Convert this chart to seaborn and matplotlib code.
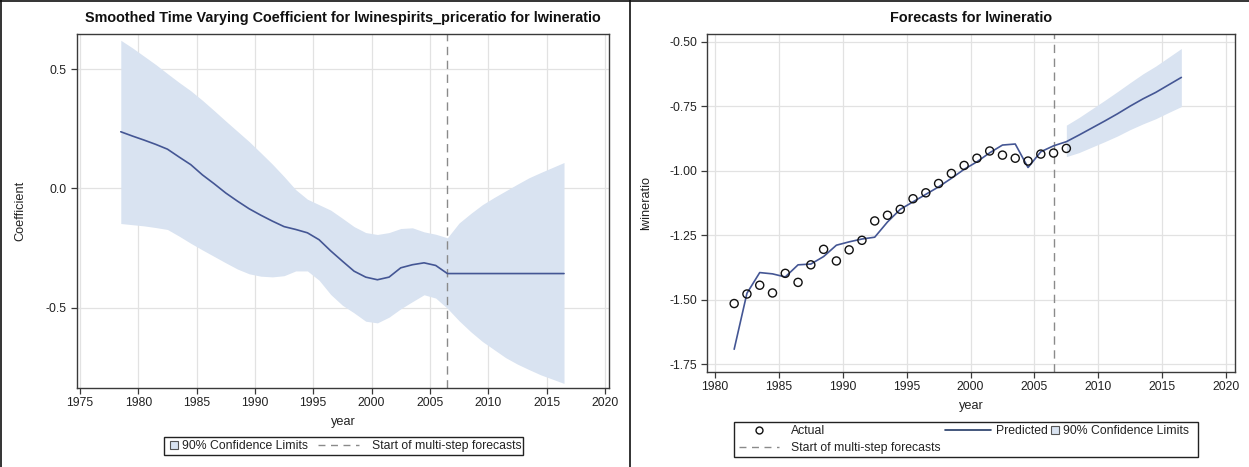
import numpy as np
import pandas as pd
import matplotlib
matplotlib.use("Agg")
import matplotlib.pyplot as plt
import seaborn as sns
from matplotlib.lines import Line2D
from matplotlib.patches import Rectangle, Patch
from matplotlib.legend_handler import HandlerPatch

# ---------------- data ----------------
coef_years = np.arange(1978.5, 2017.0, 1.0)
coef_values = [0.238, 0.220, 0.203, 0.185, 0.165, 0.132, 0.100, 0.057, 0.020, -0.019,
               -0.053, -0.085, -0.112, -0.137, -0.160, -0.172, -0.186, -0.215, -0.262, -0.305,
               -0.347, -0.372, -0.383, -0.372, -0.333, -0.320, -0.312, -0.323, -0.357,
               -0.357, -0.357, -0.357, -0.357, -0.357, -0.357, -0.357, -0.357, -0.357, -0.357]
coef_upper = [0.622, 0.590, 0.555, 0.520, 0.482, 0.445, 0.410, 0.370, 0.327, 0.283,
              0.240, 0.197, 0.150, 0.102, 0.050, -0.005, -0.045, -0.068, -0.091, -0.125,
              -0.160, -0.185, -0.193, -0.185, -0.168, -0.165, -0.182, -0.192, -0.207,
              -0.145, -0.105, -0.068, -0.038, -0.010, 0.018, 0.045, 0.067, 0.088, 0.109]
coef_lower = [-0.147, -0.152, -0.157, -0.164, -0.172, -0.200, -0.230, -0.258, -0.285, -0.312,
              -0.338, -0.358, -0.368, -0.371, -0.366, -0.346, -0.346, -0.385, -0.445, -0.490,
              -0.522, -0.557, -0.564, -0.540, -0.505, -0.475, -0.446, -0.460, -0.503,
              -0.555, -0.601, -0.642, -0.676, -0.710, -0.737, -0.760, -0.782, -0.800, -0.818]

actual_years = np.arange(1981.5, 2008.0, 1.0)
actual_values = [-1.515, -1.478, -1.444, -1.474, -1.398, -1.433, -1.365, -1.305, -1.350, -1.307,
                 -1.270, -1.195, -1.173, -1.150, -1.109, -1.086, -1.050, -1.011, -0.980, -0.952,
                 -0.924, -0.940, -0.952, -0.963, -0.936, -0.932, -0.914]
pred_years = np.arange(1981.5, 2017.0, 1.0)
pred_values = [-1.692, -1.475, -1.395, -1.400, -1.412, -1.365, -1.362, -1.333, -1.289, -1.276,
               -1.265, -1.258, -1.199, -1.150, -1.121, -1.092, -1.063, -1.030, -0.995, -0.966,
               -0.931, -0.901, -0.897, -0.988, -0.927, -0.904, -0.888, -0.862, -0.835, -0.808,
               -0.780, -0.750, -0.722, -0.697, -0.668, -0.639]
band_years = np.arange(2007.5, 2017.0, 1.0)
band_upper = [-0.824, -0.794, -0.761, -0.728, -0.694, -0.659, -0.625, -0.595, -0.561, -0.527]
band_lower = [-0.946, -0.930, -0.909, -0.888, -0.866, -0.841, -0.819, -0.799, -0.775, -0.752]

forecast_start = 2006.5

left_xticks = [1975, 1980, 1985, 1990, 1995, 2000, 2005, 2010, 2015, 2020]
left_yticks = [0.5, 0.0, -0.5]
right_xticks = [1980, 1985, 1990, 1995, 2000, 2005, 2010, 2015, 2020]
right_yticks = [-0.50, -0.75, -1.00, -1.25, -1.50, -1.75]

# ---------------- style ----------------
sns.set_theme(style="whitegrid")
plt.rcParams["font.family"] = ["Liberation Sans", "DejaVu Sans"]
plt.rcParams["axes.unicode_minus"] = False

LINE = "#445694"
BAND = "#d9e3f1"
DASH = "#8a8a8a"
GRID = "#e2e2e2"
TXT = "#222222"
FS = 8.8          # tick / legend font size
FS_LAB = 9.2      # axis label font size
FS_TITLE = 10.4

W, H = 1249, 467
fig = plt.figure(figsize=(W / 100, H / 100), dpi=100)
fig.patch.set_facecolor("white")


def fx(x):
    return x / W


def fy(y):
    return 1 - y / H


def ax_rect(x0, x1, ytop, ybot):
    return [fx(x0), fy(ybot), (x1 - x0) / W, (ybot - ytop) / H]


axL = fig.add_axes(ax_rect(76.7, 609.5, 34.3, 387.7))
axR = fig.add_axes(ax_rect(706.7, 1235.0, 34.3, 371.7))


def style_axes(ax):
    ax.set_facecolor("white")
    ax.grid(True, color=GRID, linewidth=0.9)
    for s in ax.spines.values():
        s.set_color("#3a3a3a")
        s.set_linewidth(1.0)
        s.set_visible(True)
    ax.tick_params(axis="both", which="major", direction="out", length=4, width=0.9,
                   color="#3a3a3a", labelsize=FS, labelcolor=TXT, pad=3,
                   left=True, bottom=True)


# ---------------- left panel ----------------
style_axes(axL)
axL.fill_between(coef_years, coef_lower, coef_upper, color=BAND, linewidth=0, zorder=1)
dfL = pd.DataFrame({"year": coef_years, "coef": coef_values})
sns.lineplot(data=dfL, x="year", y="coef", ax=axL, color=LINE, linewidth=1.2,
             estimator=None, sort=False, zorder=3)
axL.axvline(forecast_start, color=DASH, linewidth=1.0, linestyle=(0, (6, 4)), zorder=2)
axL.set_xlim(1974.72, 2020.4)
axL.set_ylim(-0.836, 0.647)
axL.set_xticks(left_xticks)
axL.set_xticklabels([str(v) for v in left_xticks])
axL.set_yticks(left_yticks)
axL.set_yticklabels(["0.5", "0.0", "-0.5"])
axL.set_xlabel("year", fontsize=FS_LAB, color=TXT, labelpad=5)
axL.set_ylabel("Coefficient", fontsize=FS_LAB, color=TXT, labelpad=14)
axL.set_title("Smoothed Time Varying Coefficient for lwinespirits_priceratio for lwineratio",
              fontsize=FS_TITLE, fontweight="bold", color="#111111", pad=9)

# ---------------- right panel ----------------
style_axes(axR)
axR.fill_between(band_years, band_lower, band_upper, color=BAND, linewidth=0, zorder=1)
dfP = pd.DataFrame({"year": pred_years, "pred": pred_values})
sns.lineplot(data=dfP, x="year", y="pred", ax=axR, color=LINE, linewidth=1.2,
             estimator=None, sort=False, zorder=3)
dfA = pd.DataFrame({"year": actual_years, "actual": actual_values})
sns.scatterplot(data=dfA, x="year", y="actual", ax=axR, marker="o", s=34,
                facecolor="none", edgecolor="#111111", linewidth=1.0, zorder=4)
axR.axvline(forecast_start, color=DASH, linewidth=1.0, linestyle=(0, (6, 4)), zorder=2)
axR.set_xlim(1979.35, 2020.7)
axR.set_ylim(-1.779, -0.472)
axR.set_xticks(right_xticks)
axR.set_xticklabels([str(v) for v in right_xticks])
axR.set_yticks(right_yticks)
axR.set_yticklabels([f"{v:.2f}" for v in right_yticks])
axR.set_xlabel("year", fontsize=FS_LAB, color=TXT, labelpad=5)
axR.set_ylabel("lwineratio", fontsize=FS_LAB, color=TXT, labelpad=12)
axR.set_title("Forecasts for lwineratio", fontsize=FS_TITLE, fontweight="bold",
              color="#111111", pad=9)


# ---------------- legends ----------------
class SquareHandler(HandlerPatch):
    def create_artists(self, legend, orig_handle, xdescent, ydescent, width, height,
                       fontsize, trans):
        s = 0.62 * fontsize
        r = Rectangle((width - s - xdescent, (height - s) / 2 - ydescent), s, s,
                      facecolor=BAND, edgecolor="#555555", linewidth=0.8, transform=trans)
        return [r]


PX_PER_EM = FS * 100 / 72.0


def em(px):
    return px / PX_PER_EM


def add_leg(handles, labels, x_left, y_center, handle_px, pad_px, labelspacing=0.4):
    leg = fig.legend(handles, labels, loc="center left",
                     bbox_to_anchor=(fx(x_left), fy(y_center)),
                     frameon=False, fontsize=FS, handlelength=em(handle_px),
                     handletextpad=em(pad_px), borderpad=0.0, borderaxespad=0.0,
                     labelspacing=labelspacing, handler_map={Patch: SquareHandler()})
    for t in leg.get_texts():
        t.set_color(TXT)
    return leg


def add_frame(x0, y0, x1, y1):
    fig.add_artist(Rectangle((fx(x0), fy(y1)), (x1 - x0) / W, (y1 - y0) / H,
                             transform=fig.transFigure, facecolor="none",
                             edgecolor="#222222", linewidth=1.0, zorder=10))


def cl_proxy():
    return Patch(facecolor=BAND, edgecolor="#555555")


def dash_proxy():
    return Line2D([], [], color=DASH, linewidth=1.0, linestyle=(0, (5, 4)))


# left legend
add_frame(164, 437, 523, 455)
add_leg([cl_proxy()], ["90% Confidence Limits"], 168, 446, 10, 4)
add_leg([dash_proxy()], ["Start of multi-step forecasts"], 318, 446, 41, 13)

# right legend
add_frame(734, 422, 1198, 457)
act_proxy = Line2D([], [], linestyle="none", marker="o", markersize=5,
                   markerfacecolor="none", markeredgecolor="#111111", markeredgewidth=1.0)
add_leg([act_proxy, dash_proxy()], ["Actual", "Start of multi-step forecasts"],
        739, 439.5, 40, 12, labelspacing=0.42)
pred_proxy = Line2D([], [], color="#223a66", linewidth=1.2)
add_leg([pred_proxy], ["Predicted"], 945, 431, 46, 5)
add_leg([cl_proxy()], ["90% Confidence Limits"], 1048, 431, 11, 4)

# ---------------- panel borders ----------------
for (xa, ya, xb, yb) in [(0, 1.0, W, 1.0), (1.0, 0, 1.0, H), (630.0, 0, 630.0, H)]:
    fig.add_artist(Line2D([fx(xa), fx(xb)], [fy(ya), fy(yb)], transform=fig.transFigure,
                          color="#111111", linewidth=1.2))

fig.savefig("out.png", dpi=100, facecolor="white")
